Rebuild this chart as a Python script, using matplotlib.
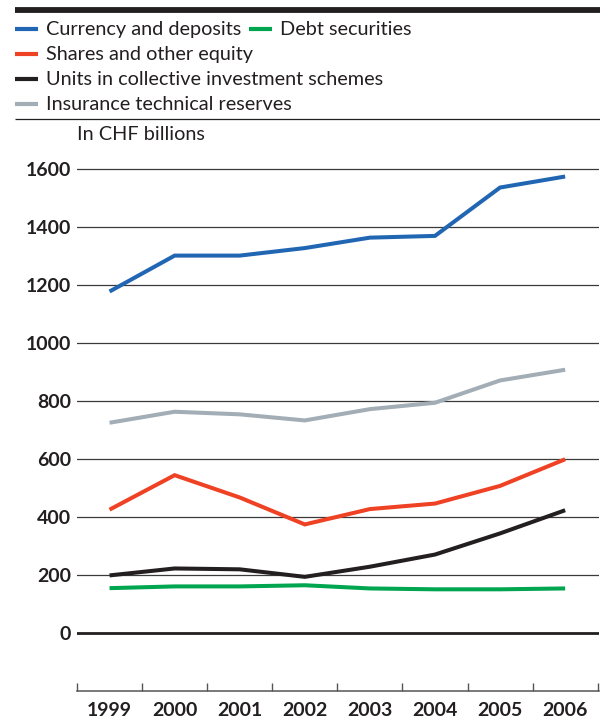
import matplotlib
matplotlib.use("Agg")
import matplotlib.pyplot as plt
from matplotlib.lines import Line2D
from matplotlib.ticker import FixedLocator

years = ["1999", "2000", "2001", "2002", "2003", "2004", "2005", "2006"]
currency_deposits = [1178, 1302, 1302, 1328, 1364, 1370, 1537, 1575]
debt_securities = [154, 160, 160, 164, 153, 150, 150, 153]
shares_equity = [425, 544, 467, 374, 427, 446, 507, 599]
units_cis = [198, 222, 219, 193, 228, 270, 343, 423]
insurance_reserves = [725, 763, 754, 733, 772, 794, 871, 908]
y_ticks = [0, 200, 400, 600, 800, 1000, 1200, 1400, 1600]

series = [
    ("Currency and deposits", currency_deposits, "#2166b3"),
    ("Debt securities", debt_securities, "#00a54f"),
    ("Shares and other equity", shares_equity, "#ef4123"),
    ("Units in collective investment schemes", units_cis, "#231f20"),
    ("Insurance technical reserves", insurance_reserves, "#a2adb6"),
]

TXT = "#231f20"
W, H = 600, 718
fig = plt.figure(figsize=(6.0, 7.18), dpi=100)

def fx(px):
    return px / W

def fy(py):
    return 1 - py / H

# axes placement
ax_left, ax_right = 77, 599
ax_top, ax_bottom = 149, 690.7
ax = fig.add_axes([fx(ax_left), fy(ax_bottom), (ax_right - ax_left) / W, (ax_bottom - ax_top) / H])

x = list(range(len(years)))
order = [4, 3, 1, 2, 0]
for i in order:
    name, vals, col = series[i]
    ax.plot(x, vals, color=col, lw=2.9, solid_capstyle="butt", solid_joinstyle="miter", zorder=3)

ax.set_xlim(-0.5, 7.5 + 0.02)
ax.set_ylim(-200, 1670)

ax.set_yticks(y_ticks)
ax.set_yticklabels([str(v) for v in y_ticks])
for v in y_ticks[1:]:
    ax.axhline(v, color="#3a3a3a", lw=0.9, zorder=1)
ax.axhline(0, color=TXT, lw=2.0, zorder=2)

ax.set_xticks(x)
ax.set_xticklabels(years)
ax.xaxis.set_minor_locator(FixedLocator([i - 0.5 for i in range(len(years) + 1)]))
ax.tick_params(axis="x", which="major", length=0, pad=8)
ax.tick_params(axis="x", which="minor", direction="in", length=5.8, width=1.0, color="#555555")
ax.tick_params(axis="y", length=0, pad=4.5)

for lab in ax.get_xticklabels() + ax.get_yticklabels():
    lab.set_fontfamily("Lato")
    lab.set_fontweight("bold")
    lab.set_fontsize(14)
    lab.set_color(TXT)

for s in ["top", "right", "left"]:
    ax.spines[s].set_visible(False)
ax.spines["bottom"].set_color("#555555")
ax.spines["bottom"].set_linewidth(1.1)
ax.patch.set_alpha(0)

# top bar and rule
fig.add_artist(Line2D([fx(15), fx(600)], [fy(10), fy(10)], color=TXT, lw=4.2, solid_capstyle="butt"))
fig.add_artist(Line2D([fx(15), fx(600)], [fy(119), fy(119)], color=TXT, lw=0.9, solid_capstyle="butt"))

# legend
leg_pos = [
    (15, 28.5),   # currency
    (249, 28.5),  # debt
    (15, 53.5),   # shares
    (15, 78.5),   # units
    (15, 103.5),  # insurance
]
for (name, vals, col), (lx, ly) in zip(series, leg_pos):
    fig.add_artist(Line2D([fx(lx), fx(lx + 23)], [fy(ly), fy(ly)], color=col, lw=3.0, solid_capstyle="butt"))
    fig.text(fx(lx + 31), fy(ly + 1), name, fontsize=14.3, family="Lato", color=TXT, va="center", ha="left")

fig.text(fx(77), fy(134), "In CHF billions", fontsize=14.3, family="Lato", color=TXT, va="center", ha="left")

fig.savefig("out.png", dpi=100)
